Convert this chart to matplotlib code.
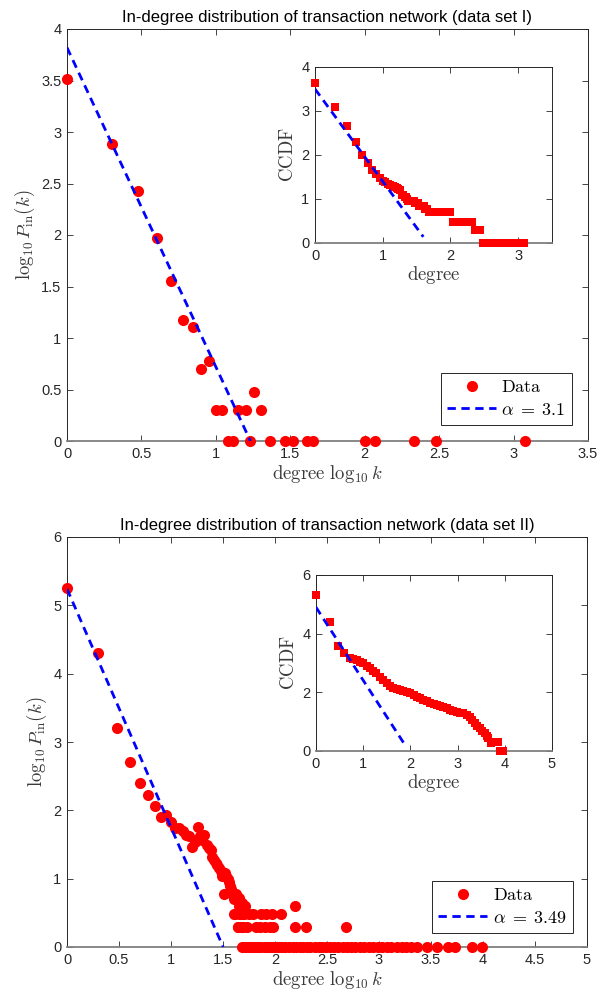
import numpy as np
import matplotlib
matplotlib.use('Agg')
import matplotlib.pyplot as plt

plt.rcParams['font.family'] = ['Liberation Sans', 'DejaVu Sans']
plt.rcParams['mathtext.fontset'] = 'cm'

# ---- data set I : in-degree distribution (log10 k, log10 P_in(k)) ----
top_logk = [0, 0.301, 0.477, 0.602, 0.699, 0.778, 0.845, 0.903, 0.954, 1.0,
            1.041, 1.079, 1.114, 1.146, 1.204, 1.230, 1.255, 1.301, 1.362, 1.462,
            1.519, 1.613, 1.653, 2.0, 2.072, 2.328, 2.477, 3.076]
top_logp = [3.51, 2.88, 2.43, 1.97, 1.556, 1.175, 1.11, 0.70, 0.78, 0.301,
            0.301, 0, 0, 0.301, 0.301, 0, 0.477, 0.301, 0, 0,
            0, 0, 0, 0, 0, 0, 0, 0]
top_alpha = 3.1
top_intercept = 3.82

# data set I : CCDF (inset)
top_ccdf_x = [0, 0.301, 0.477, 0.602, 0.699, 0.778, 0.845, 0.903, 0.954, 1.0,
              1.041, 1.079, 1.114, 1.146, 1.176, 1.204, 1.230, 1.255, 1.279, 1.301,
              1.322, 1.342, 1.362, 1.380, 1.398, 1.415, 1.431, 1.447, 1.462, 1.477,
              1.491, 1.505, 1.519, 1.531, 1.544, 1.556, 1.568, 1.580, 1.591, 1.602,
              1.613, 1.623, 1.633, 1.643, 1.653,
              1.68, 1.72, 1.76, 1.80, 1.84, 1.88, 1.92, 1.96, 2.0,
              2.04, 2.08, 2.12, 2.16, 2.20, 2.24, 2.28, 2.32,
              2.36, 2.40, 2.44,
              2.48, 2.52, 2.56, 2.60, 2.64, 2.68, 2.72, 2.76, 2.80, 2.84,
              2.88, 2.92, 2.96, 3.00, 3.04, 3.08]
top_ccdf_y = [3.64, 3.08, 2.65, 2.29, 2.0, 1.81, 1.67, 1.57, 1.48, 1.41,
              1.38, 1.34, 1.32, 1.30, 1.27, 1.26, 1.23, 1.20, 1.08, 1.08,
              1.04, 1.04, 1.0, 0.95, 0.95, 0.95, 0.95, 0.95, 0.95, 0.90,
              0.90, 0.90, 0.90, 0.85, 0.85, 0.85, 0.85, 0.85, 0.85, 0.85,
              0.85, 0.78, 0.78, 0.78, 0.78,
              0.70, 0.70, 0.70, 0.70, 0.70, 0.70, 0.70, 0.70, 0.70,
              0.48, 0.48, 0.48, 0.48, 0.48, 0.48, 0.48, 0.48,
              0.30, 0.30, 0.30,
              0, 0, 0, 0, 0, 0, 0, 0, 0, 0,
              0, 0, 0, 0, 0, 0]
top_ccdf_intercept = 3.5
top_ccdf_end = 1.6

# ---- data set II : in-degree distribution ----
bot_logk = [0, 0.301, 0.477, 0.602, 0.699, 0.778, 0.845, 0.903, 0.954, 1.0,
            1.041, 1.079, 1.114, 1.146, 1.176, 1.204, 1.230, 1.255, 1.279, 1.301,
            1.322, 1.342, 1.362, 1.380, 1.398, 1.415, 1.431, 1.447, 1.462, 1.477,
            1.491, 1.505, 1.519, 1.531, 1.544, 1.556, 1.568, 1.580, 1.591, 1.602,
            1.613, 1.623, 1.633, 1.643, 1.653, 1.663, 1.672, 1.681, 1.690,
            1.61, 1.66, 1.70, 1.75, 1.79, 1.87, 1.91, 1.97, 2.06,
            1.64, 1.68, 1.73, 1.82, 1.86, 1.90, 1.95, 1.98, 2.19, 2.30, 2.68,
            1.71, 2.19, 1.657, 1.68,
            1.68, 1.71, 1.74, 1.77, 1.80, 1.83, 1.86, 1.89, 1.92, 1.95,
            1.98, 2.01, 2.04, 2.07, 2.10, 2.13, 2.17, 2.20, 2.24, 2.27,
            2.31, 2.34, 2.38, 2.42, 2.45, 2.49, 2.53, 2.57, 2.61, 2.65,
            2.69, 2.73, 2.77, 2.82, 2.86, 2.90, 2.94, 2.99, 3.03, 3.08,
            3.12, 3.17, 3.22, 3.26, 3.31, 3.37, 3.46, 3.56, 3.66, 3.73,
            3.89, 3.99]
bot_logp = [5.26, 4.30, 3.21, 2.71, 2.40, 2.23, 2.07, 1.90, 1.93, 1.83,
            1.74, 1.74, 1.70, 1.64, 1.62, 1.47, 1.53, 1.76, 1.63, 1.57,
            1.64, 1.49, 1.45, 1.42, 1.32, 1.28, 1.23, 1.20, 1.15, 1.11,
            1.04, 0.78, 1.08, 1.04, 1.0, 0.95, 0.90, 0.85, 0.78, 0.70,
            0.48, 0.78, 0.70, 0.30, 0.60, 0.48, 0.30, 0.48, 0.30,
            0.48, 0.48, 0.48, 0.48, 0.48, 0.48, 0.48, 0.48, 0.48,
            0.30, 0.30, 0.30, 0.30, 0.30, 0.30, 0.30, 0.30, 0.30, 0.30, 0.30,
            0.60, 0.60, 0.71, 0.64,
            0, 0, 0, 0, 0, 0, 0, 0, 0, 0,
            0, 0, 0, 0, 0, 0, 0, 0, 0, 0,
            0, 0, 0, 0, 0, 0, 0, 0, 0, 0,
            0, 0, 0, 0, 0, 0, 0, 0, 0, 0,
            0, 0, 0, 0, 0, 0, 0, 0, 0, 0,
            0, 0]
bot_alpha = 3.49
bot_intercept = 5.24

# data set II : CCDF (inset)
bot_ccdf_x = [0, 0.30, 0.47, 0.59, 0.72, 0.79, 0.86, 0.93, 1.0, 1.07,
              1.14, 1.21, 1.28, 1.36, 1.43, 1.50, 1.57, 1.64, 1.71, 1.78,
              1.85, 1.92, 2.0, 2.07, 2.13, 2.20, 2.27, 2.35, 2.42, 2.49,
              2.56, 2.63, 2.70, 2.77, 2.84, 2.91, 2.98, 3.05, 3.12, 3.19,
              3.26, 3.31, 3.37, 3.42, 3.47, 3.52, 3.58, 3.62, 3.65, 3.70,
              3.78, 3.86, 3.90, 3.97]
bot_ccdf_y = [5.32, 4.39, 3.58, 3.35, 3.18, 3.14, 3.10, 3.05, 2.99, 2.91,
              2.82, 2.74, 2.65, 2.53, 2.42, 2.31, 2.22, 2.15, 2.11, 2.08,
              2.05, 2.01, 1.97, 1.91, 1.85, 1.80, 1.74, 1.69, 1.65, 1.61,
              1.57, 1.53, 1.49, 1.45, 1.40, 1.37, 1.34, 1.31, 1.28, 1.23,
              1.17, 1.06, 0.94, 0.86, 0.77, 0.68, 0.60, 0.50, 0.43, 0.28,
              0.30, 0.30, 0, 0]
bot_ccdf_intercept = 4.9
bot_ccdf_end = 1.9

axis_col = '#262626'
label_col = '#3a3a3a'


def style_axes(ax, size=10.5):
    ax.tick_params(direction='in', top=True, right=True, length=4, width=0.6,
                   colors=axis_col, labelsize=size, pad=4)
    for s in ax.spines.values():
        s.set_color(axis_col)
        s.set_linewidth(0.7)
    ax.spines['bottom'].set_color('#808080')
    ax.spines['bottom'].set_linewidth(1.3)


def main_panel(ax, x, y, alpha, intercept, title, xmax, ymax, legend_off):
    ax.plot(x, y, 'o', color='red', markersize=8, markeredgewidth=0,
            linestyle='none', label=r'$\mathrm{Data}$', clip_on=False, zorder=3)
    xe = intercept / alpha
    ax.plot([0, xe], [intercept, intercept - alpha * xe], color='blue', lw=2,
            dashes=(3, 2), label=r'$\alpha\;=\;%s$' % alpha, zorder=4)
    ax.set_xlim(0, xmax)
    ax.set_ylim(0, ymax)
    ax.set_title(title, fontsize=12, pad=5)
    ax.set_xlabel(r'$\mathrm{degree}\ \log_{10}k$', fontsize=13.5, color=label_col, labelpad=2)
    ax.set_ylabel(r'$\log_{10}P_{\mathrm{in}}(k)$', fontsize=13.5, color=label_col, labelpad=3)
    style_axes(ax)
    leg = ax.legend(loc='lower right', bbox_to_anchor=legend_off, borderaxespad=0,
                    fontsize=13, fancybox=False, handlelength=2.7,
                    edgecolor=axis_col, framealpha=1, borderpad=0.35,
                    labelspacing=0.3, handletextpad=0.3)
    leg.get_frame().set_linewidth(0.7)
    leg.set_zorder(5)


def inset_panel(ax, x, y, intercept, alpha, xend, xmax, ymax, yticks):
    ax.plot(x, y, 's', color='red', markersize=6.3, markeredgewidth=0,
            linestyle='none', clip_on=False, zorder=3)
    ax.plot([0, xend], [intercept, intercept - (alpha - 1) * xend], color='blue',
            lw=2, dashes=(3, 2), zorder=4)
    ax.set_xlim(0, xmax)
    ax.set_ylim(0, ymax)
    ax.set_yticks(yticks)
    ax.set_xticks(range(0, int(xmax) + 1))
    ax.set_xlabel(r'$\mathrm{degree}$', fontsize=13.5, color=label_col, labelpad=1)
    ax.set_ylabel(r'$\mathrm{CCDF}$', fontsize=13.5, color=label_col, labelpad=3)
    style_axes(ax)


fig = plt.figure(figsize=(5.98, 10.01), dpi=100)
W, H = 598.0, 1001.0
ax1 = fig.add_axes([67 / W, 1 - 441 / H, 521 / W, 412 / H])
ax2 = fig.add_axes([67 / W, 1 - 947 / H, 520 / W, 410 / H])
ins1 = fig.add_axes([315 / W, 1 - 243 / H, 237 / W, 176 / H])
ins2 = fig.add_axes([316 / W, 1 - 751 / H, 236 / W, 176 / H])

main_panel(ax1, top_logk, top_logp, top_alpha, top_intercept,
           'In-degree distribution of transaction network (data set I)',
           3.5, 4, (1 - 16 / 521, 16 / 412))
ax1.set_xticks(np.arange(0, 3.51, 0.5))
ax1.set_xticklabels(['0', '0.5', '1', '1.5', '2', '2.5', '3', '3.5'])
ax1.set_yticks(np.arange(0, 4.01, 0.5))
ax1.set_yticklabels(['0', '0.5', '1', '1.5', '2', '2.5', '3', '3.5', '4'])

main_panel(ax2, bot_logk, bot_logp, bot_alpha, bot_intercept,
           'In-degree distribution of transaction network (data set II)',
           5, 6, (1 - 14 / 520, 14 / 410))
ax2.set_xticks(np.arange(0, 5.01, 0.5))
ax2.set_xticklabels(['0', '0.5', '1', '1.5', '2', '2.5', '3', '3.5', '4', '4.5', '5'])
ax2.set_yticks(range(0, 7))

inset_panel(ins1, top_ccdf_x, top_ccdf_y, top_ccdf_intercept, top_alpha,
            top_ccdf_end, 3.5, 4, range(0, 5))
ins1.set_xticks([0, 1, 2, 3])
inset_panel(ins2, bot_ccdf_x, bot_ccdf_y, bot_ccdf_intercept, bot_alpha,
            bot_ccdf_end, 5, 6, [0, 2, 4, 6])

fig.savefig('out.png', dpi=100)
